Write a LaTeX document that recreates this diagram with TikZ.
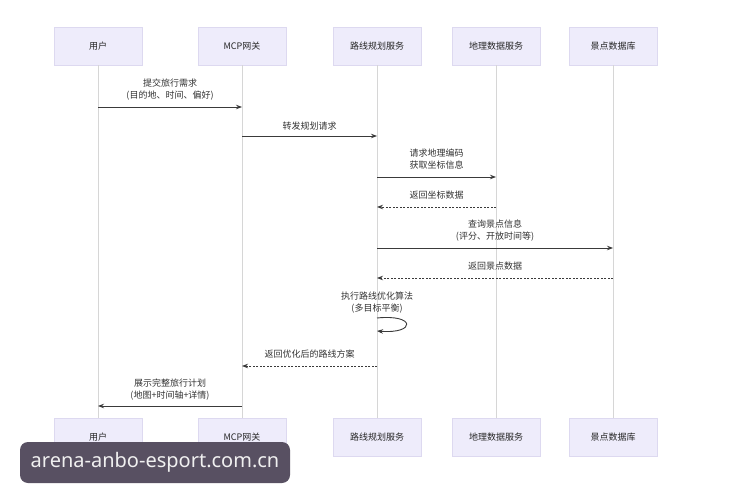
\documentclass[tikz,border=0pt]{standalone}
\usepackage{fontspec}
\setmainfont{Noto Sans CJK SC}
\newfontfamily\wmfont{Noto Sans}
\usetikzlibrary{arrows.meta}
\definecolor{boxfill}{HTML}{EEECFB}
\definecolor{boxline}{HTML}{DDD9F0}
\definecolor{life}{HTML}{D6D6D6}
\definecolor{msg}{HTML}{3A3A3A}
\definecolor{wmbg}{HTML}{585062}
\definecolor{wmtx}{HTML}{F0F0F0}
\begin{document}
\begin{tikzpicture}[x=1pt,y=-1pt,
  actor/.style={draw=boxline,line width=0.8pt,fill=boxfill,minimum width=88pt,minimum height=38pt,inner sep=0pt,font=\fontsize{9}{11}\selectfont,text=black!85},
  lifeline/.style={draw=life,line width=0.9pt},
  call/.style={draw=msg,line width=0.9pt,-{Stealth[length=6pt,width=4.5pt]}},
  reply/.style={call,dash pattern=on 2pt off 1.5pt},
  lbl/.style={font=\fontsize{9}{12}\selectfont,text=black!80,align=center,anchor=south}]
\useasboundingbox[fill=white] (0,0) rectangle (730,502);
% top actors
\node[actor] (uT) at (98,46)  {用户};
\node[actor] (gT) at (242,46) {MCP网关};
\node[actor] (rT) at (377,46) {路线规划服务};
\node[actor] (dT) at (496,46) {地理数据服务};
\node[actor] (sT) at (613,46) {景点数据库};
% bottom actors
\node[actor] (uB) at (98,437.5)  {用户};
\node[actor] (gB) at (242,437.5) {MCP网关};
\node[actor] (rB) at (377,437.5) {路线规划服务};
\node[actor] (dB) at (496,437.5) {地理数据服务};
\node[actor] (sB) at (613,437.5) {景点数据库};
% lifelines
\foreach \a in {u,g,r,d,s}{\draw[lifeline] (\a T.south) -- (\a B.north);}
% messages
\draw[call] (uT.south |- 0,107) -- (gT.south |- 0,107)
  node[lbl,midway,above=3pt] {提交旅行需求\\(目的地、时间、偏好)};
\draw[call] (gT.south |- 0,136) -- (rT.south |- 0,136)
  node[lbl,midway,above=2pt] {转发规划请求};
\draw[call] (rT.south |- 0,177) -- (dT.south |- 0,177)
  node[lbl,midway,above=4pt] {请求地理编码\\获取坐标信息};
\draw[reply] (dT.south |- 0,207) -- (rT.south |- 0,207)
  node[lbl,midway,above=4pt] {返回坐标数据};
\draw[call] (rT.south |- 0,248) -- (sT.south |- 0,248)
  node[lbl,midway,above=3pt] {查询景点信息\\(评分、开放时间等)};
\draw[reply] (sT.south |- 0,278) -- (rT.south |- 0,278)
  node[lbl,midway,above=4pt] {返回景点数据};
\coordinate (selfA) at (rT.south |- 0,318);
\coordinate (selfB) at (rT.south |- 0,331);
\node[lbl] (selfL) at (377,317) {执行路线优化算法\\(多目标平衡)};
\draw[call] (selfA) .. controls (416,314) and (416,334) .. (selfB);
\draw[reply] (rT.south |- 0,366) -- (gT.south |- 0,366)
  node[lbl,midway,above=4pt] {返回优化后的路线方案};
\draw[call] (gT.south |- 0,406) -- (uT.south |- 0,406)
  node[lbl,midway,above=2pt] {展示完整旅行计划\\(地图+时间轴+详情)};
% watermark
\node[fill=wmbg,rounded corners=8pt,minimum width=270pt,minimum height=41pt,inner sep=0pt,
  text=wmtx,font=\wmfont\fontsize{20}{22}\selectfont] (wm) at (155,462.5) {arena-anbo-esport.com.cn};
\end{tikzpicture}
\end{document}
